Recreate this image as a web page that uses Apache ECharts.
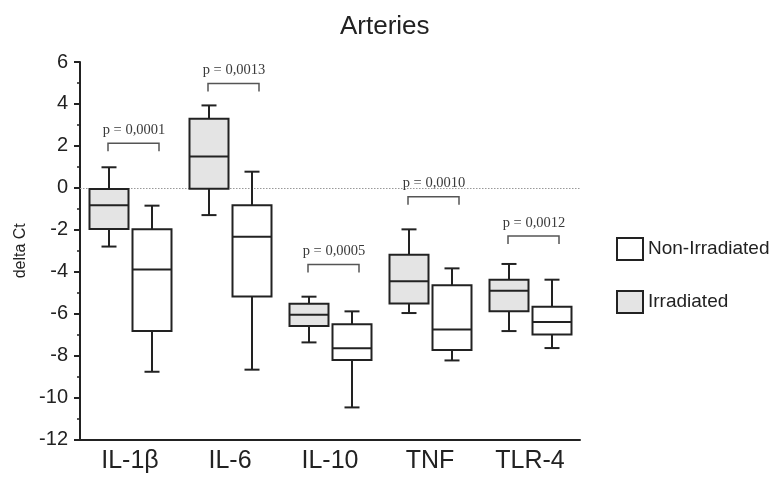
<!DOCTYPE html>
<html>
<head>
<meta charset="utf-8">
<script src="https://cdn.jsdelivr.net/npm/echarts@6/dist/echarts.min.js"></script>
<style>
  html, body { margin: 0; padding: 0; background: #fff; }
  #chart { width: 774px; height: 488px; }
</style>
</head>
<body>
<div id="chart"></div>
<script>
// categories (genes)
var genes = ['IL-1β', 'IL-6', 'IL-10', 'TNF', 'TLR-4'];

// box stats per gene: [min, q1, median, q3, max]
var irradiated = [
  [-2.8, -1.96, -0.83, -0.06, 0.98],
  [-1.3, -0.04, 1.5, 3.3, 3.93],
  [-7.37, -6.59, -6.05, -5.53, -5.19],
  [-5.97, -5.51, -4.46, -3.19, -1.98],
  [-6.83, -5.88, -4.91, -4.38, -3.63]
];
var nonIrradiated = [
  [-8.77, -6.83, -3.89, -1.98, -0.85],
  [-8.67, -5.18, -2.33, -0.83, 0.77],
  [-10.47, -8.21, -7.65, -6.51, -5.89],
  [-8.23, -7.73, -6.75, -4.65, -3.84],
  [-7.64, -6.99, -6.4, -5.67, -4.38]
];

// p-values and bracket level (delta Ct units)
var pLabels = ['p = 0,0001', 'p = 0,0013', 'p = 0,0005', 'p = 0,0010', 'p = 0,0012'];
var pLevel = [2.12, 4.98, -3.65, -0.42, -2.30];

var yTicks = { min: -12, max: 6, step: 2 };

var lineColor = '#222';

function boxRender(offset, fill) {
  return function (params, api) {
    var c = api.value(0);
    var x = api.coord([c, 0])[0] + offset;
    var yMin = api.coord([c, api.value(1)])[1];
    var yQ1 = api.coord([c, api.value(2)])[1];
    var yMed = api.coord([c, api.value(3)])[1];
    var yQ3 = api.coord([c, api.value(4)])[1];
    var yMax = api.coord([c, api.value(5)])[1];
    var w = 39, cap = 7.5;
    var st = { stroke: lineColor, lineWidth: 2 };
    return {
      type: 'group',
      children: [
        { type: 'line', shape: { x1: x, y1: yMax, x2: x, y2: yQ3 }, style: st },
        { type: 'line', shape: { x1: x, y1: yQ1, x2: x, y2: yMin }, style: st },
        { type: 'line', shape: { x1: x - cap, y1: yMax, x2: x + cap, y2: yMax }, style: st },
        { type: 'line', shape: { x1: x - cap, y1: yMin, x2: x + cap, y2: yMin }, style: st },
        { type: 'rect', shape: { x: x - w / 2, y: yQ3, width: w, height: yQ1 - yQ3 },
          style: { fill: fill, stroke: lineColor, lineWidth: 2 } },
        { type: 'line', shape: { x1: x - w / 2, y1: yMed, x2: x + w / 2, y2: yMed }, style: st }
      ]
    };
  };
}

function bracketRender(params, api) {
  var c = api.value(0);
  var p = api.coord([c, api.value(1)]);
  var x0 = p[0] - 22, x1 = p[0] + 29, y = p[1], drop = 8;
  var st = { stroke: '#555', lineWidth: 1.5, fill: null };
  return {
    type: 'group',
    children: [
      { type: 'polyline', shape: { points: [[x0, y + drop], [x0, y], [x1, y], [x1, y + drop]] }, style: st },
      { type: 'text', x: p[0] + 4, y: y - 13,
        style: { text: pLabels[params.dataIndex], fill: '#3a3a3a', font: '14.5px "Liberation Serif"',
                 align: 'center', verticalAlign: 'middle' } }
    ]
  };
}

var chart = echarts.init(document.getElementById('chart'));

var option = {
  animation: false,
  backgroundColor: '#fff',
  title: {
    text: 'Arteries',
    left: 335,
    top: 9,
    textStyle: { fontFamily: 'Liberation Sans', fontSize: 26, fontWeight: 'normal', color: lineColor }
  },
  legend: {
    orient: 'vertical',
    left: 611,
    top: 232,
    itemWidth: 26,
    itemHeight: 22,
    itemGap: 29,
    textStyle: { fontFamily: 'Liberation Sans', fontSize: 19, color: lineColor },
    data: [
      { name: 'Non-Irradiated', icon: 'rect', itemStyle: { color: '#fff', borderColor: lineColor, borderWidth: 2 } },
      { name: 'Irradiated', icon: 'rect', itemStyle: { color: '#e4e4e4', borderColor: lineColor, borderWidth: 2 } }
    ]
  },
  grid: { left: 80, right: 194, top: 62, bottom: 48.5 },
  xAxis: {
    type: 'category',
    data: genes,
    axisLine: { onZero: false, lineStyle: { color: lineColor, width: 2 } },
    axisTick: { alignWithLabel: true, length: 3, lineStyle: { color: '#444' } },
    axisLabel: { fontFamily: 'Liberation Sans', fontSize: 25, color: lineColor, margin: 9 }
  },
  yAxis: {
    type: 'value',
    min: yTicks.min,
    max: yTicks.max,
    interval: yTicks.step,
    name: 'delta Ct',
    nameLocation: 'middle',
    nameRotate: 90,
    nameGap: 45,
    nameTextStyle: { fontFamily: 'Liberation Sans', fontSize: 16, color: lineColor },
    axisLine: { show: true, lineStyle: { color: lineColor, width: 2 } },
    axisTick: { show: true, length: 6, lineStyle: { color: lineColor, width: 2 } },
    minorTick: { show: true, splitNumber: 2, length: 3, lineStyle: { color: lineColor, width: 1.5 } },
    splitLine: { show: false },
    axisLabel: { fontFamily: 'Liberation Sans', fontSize: 20, color: lineColor, margin: 12 }
  },
  series: [
    {
      name: 'Irradiated',
      type: 'custom',
      itemStyle: { color: '#e4e4e4' },
      renderItem: boxRender(-21, '#e4e4e4'),
      data: irradiated.map(function (d, i) { return [i].concat(d); }),
      markLine: {
        silent: true,
        symbol: 'none',
        label: { show: false },
        z: 1,
        lineStyle: { type: [1.5, 1.5], color: '#999', width: 1 },
        data: [{ yAxis: 0 }]
      },
      z: 3
    },
    {
      name: 'Non-Irradiated',
      type: 'custom',
      itemStyle: { color: '#fff' },
      renderItem: boxRender(22, '#fff'),
      data: nonIrradiated.map(function (d, i) { return [i].concat(d); }),
      z: 3
    },
    {
      name: 'brackets',
      type: 'custom',
      renderItem: bracketRender,
      data: pLevel.map(function (v, i) { return [i, v]; }),
      z: 4
    }
  ]
};

chart.setOption(option);
</script>
</body>
</html>
